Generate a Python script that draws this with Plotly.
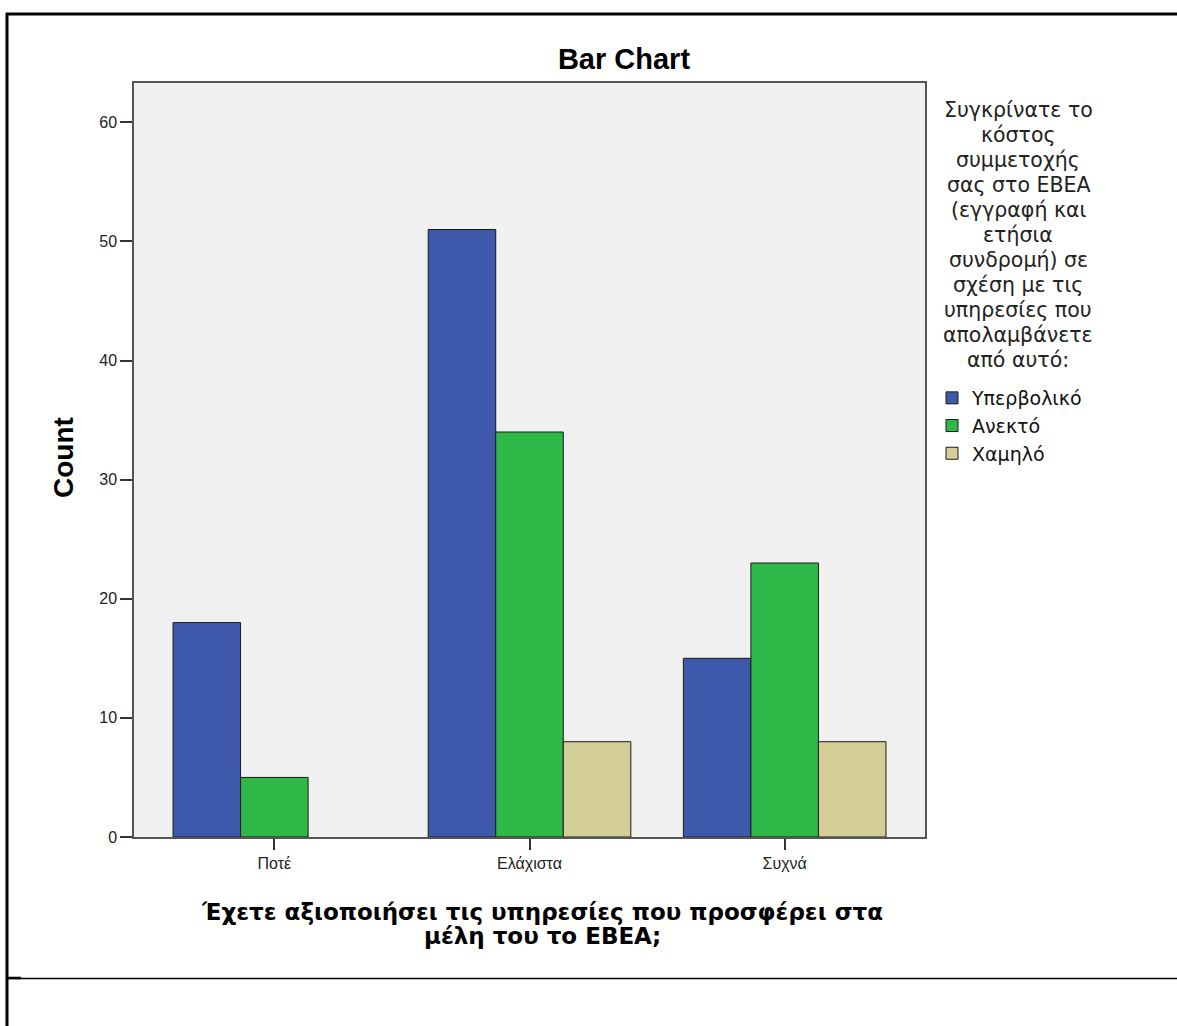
import plotly.graph_objects as go

categories = ["Ποτέ", "Ελάχιστα", "Συχνά"]
series_names = ["Υπερβολικό", "Ανεκτό", "Χαμηλό"]
val_hyper = [18, 51, 15]
val_anekto = [5, 34, 23]
val_xamilo = [None, 8, 8]
colors = ["#3e58ac", "#2eb848", "#d3ce97"]
y_ticks = [0, 10, 20, 30, 40, 50, 60]

legend_title_lines = ["Συγκρίνατε το", "κόστος", "συμμετοχής", "σας στο ΕΒΕΑ", "(εγγραφή και", "ετήσια",
                      "συνδρομή) σε", "σχέση με τις", "υπηρεσίες που", "απολαμβάνετε", "από αυτό:"]
x_title_lines = ["Έχετε αξιοποιήσει τις υπηρεσίες που προσφέρει στα", "μέλη του το ΕΒΕΑ;"]

W, H = 1177, 1026
L, R, T, B = 134, 925, 83, 837

def px(x):
    return (x - L) / (R - L)

def py(y):
    return (B - y) / (B - T)

ARIAL = "Arial, Liberation Sans, sans-serif"
DEJAVU = "DejaVu Sans, Verdana, sans-serif"

fig = go.Figure()
for name, vals, c in zip(series_names, [val_hyper, val_anekto, val_xamilo], colors):
    fig.add_trace(go.Bar(x=categories, y=vals, name=name,
                         marker=dict(color=c, line=dict(color="#1a1a1a", width=1))))

fig.update_layout(
    width=W, height=H,
    margin=dict(l=L, r=W - R, t=T, b=H - B),
    paper_bgcolor="white",
    plot_bgcolor="#f0f0f0",
    barmode="group",
    bargap=0.206,
    bargroupgap=0,
    font=dict(family=ARIAL, color="#000"),
    title=dict(text="<b>Bar Chart</b>", x=624 / W, xref="container", xanchor="center",
               y=1 - 59 / H, yanchor="middle", font=dict(size=29, color="#000", family=ARIAL)),
    showlegend=True,
    legend=dict(x=px(932), xanchor="left", y=py(379), yanchor="top",
                font=dict(size=19, color="#111", family=DEJAVU), bgcolor="rgba(0,0,0,0)",
                itemwidth=30, tracegroupgap=0),
    xaxis=dict(range=[-0.55, 2.55], showline=True, mirror=True, linecolor="#555", linewidth=1.5,
               ticks="outside", ticklen=11, tickcolor="#333", tickwidth=2,
               tickfont=dict(size=16, color="#222", family=ARIAL), showgrid=False),
    yaxis=dict(range=[0, 63.3], tickvals=y_ticks, showline=True, mirror=True, linecolor="#555", linewidth=1.5,
               ticks="outside", ticklen=12, tickcolor="#333", tickwidth=2,
               tickfont=dict(size=16, color="#222", family=ARIAL), showgrid=False, zeroline=False),
)

# axis titles
fig.add_annotation(text="<b>Count</b>", xref="paper", yref="paper", x=px(64), y=py(458),
                   xanchor="center", yanchor="middle", textangle=-90, showarrow=False,
                   font=dict(size=28, color="#000", family=ARIAL))
for i, line in enumerate(x_title_lines):
    fig.add_annotation(text="<b>" + line + "</b>", xref="paper", yref="paper", x=px(542), y=py(912 + 24 * i),
                       xanchor="center", yanchor="middle", showarrow=False,
                       font=dict(size=23, color="#000", family=DEJAVU))

# legend title
for i, line in enumerate(legend_title_lines):
    fig.add_annotation(text=line, xref="paper", yref="paper", x=px(1018), y=py(110 + 25 * i),
                       xanchor="center", yanchor="middle", showarrow=False,
                       font=dict(size=20.5, color="#222", family=DEJAVU))

# page frame lines
fig.add_shape(type="line", xref="paper", yref="paper", x0=px(6), x1=px(1177), y0=py(14), y1=py(14),
              line=dict(color="black", width=3))
fig.add_shape(type="line", xref="paper", yref="paper", x0=px(7), x1=px(7), y0=py(13), y1=py(1026),
              line=dict(color="black", width=3))
fig.add_shape(type="line", xref="paper", yref="paper", x0=px(6), x1=px(1177), y0=py(978.5), y1=py(978.5),
              line=dict(color="black", width=1.5))
fig.add_shape(type="line", xref="paper", yref="paper", x0=px(6), x1=px(21), y0=py(978), y1=py(978),
              line=dict(color="black", width=2.5))

fig.write_html("out.html", config={"displayModeBar": False},
               post_script="document.body.style.margin='0';document.body.style.overflow='hidden';")
